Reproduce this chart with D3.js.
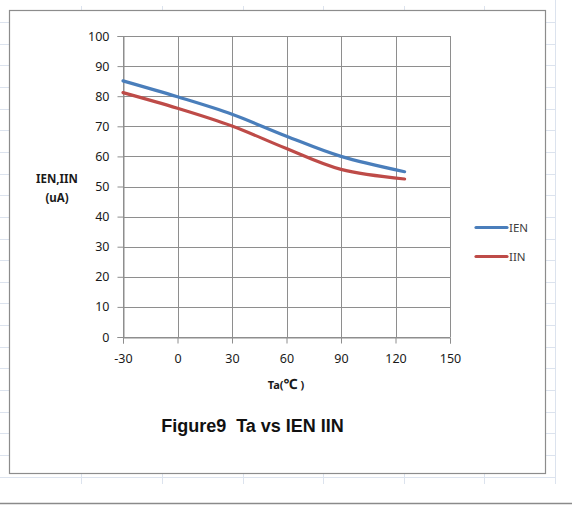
<!DOCTYPE html>
<html>
<head>
<meta charset="utf-8">
<script src="https://cdn.jsdelivr.net/npm/d3@7/dist/d3.min.js"></script>
<style>
  html, body { margin: 0; padding: 0; background: #ffffff; }
  svg { display: block; }
</style>
</head>
<body>
<svg id="chart" width="572" height="505"></svg>
<script>
// Ambient temperature (°C) and supply currents (uA)
const temps = [-30, 0, 30, 60, 90, 125];
const ienValues = [85.1, 79.8, 74.0, 66.7, 60.0, 54.9];
const iinValues = [81.2, 76.0, 70.1, 62.6, 55.7, 52.5];
const xTicks = [-30, 0, 30, 60, 90, 120, 150];
const yTicks = [0, 10, 20, 30, 40, 50, 60, 70, 80, 90, 100];
const seriesNames = ["IEN", "IIN"];
const seriesColors = ["#4a7ebb", "#be4b48"];

const svg = d3.select("#chart");
const W = 572, H = 505;

// worksheet cells behind the chart
const sheet = svg.append("g");
const rowY = d3.range(22, 480, 21.65);
const colX = [81, 162, 243, 323, 404, 484];
sheet.selectAll("line.row").data(rowY).join("line")
  .attr("x1", 0).attr("x2", 555)
  .attr("y1", d => Math.round(d) + 0.5).attr("y2", d => Math.round(d) + 0.5)
  .attr("stroke", "#dce3ee").attr("stroke-width", 1);
sheet.selectAll("line.col").data(colX).join("line")
  .attr("x1", d => d + 0.5).attr("x2", d => d + 0.5)
  .attr("y1", 6).attr("y2", 484)
  .attr("stroke", "#dce3ee").attr("stroke-width", 1);
sheet.append("line")
  .attr("x1", 555.5).attr("x2", 555.5).attr("y1", 0).attr("y2", 484)
  .attr("stroke", "#dce3ee");
sheet.append("line")
  .attr("x1", 0).attr("x2", W).attr("y1", 503.5).attr("y2", 503.5)
  .attr("stroke", "#8a8a8a").attr("stroke-width", 1.5);

// chart area
svg.append("rect")
  .attr("x", 9.5).attr("y", 10.5).attr("width", 536).attr("height", 463)
  .attr("fill", "#ffffff").attr("stroke", "#8c8c8c").attr("stroke-width", 1.2);

const x = d3.scaleLinear().domain([-30, 150]).range([123, 450]);
const y = d3.scaleLinear().domain([0, 100]).range([337, 36]);

const grid = svg.append("g");
grid.selectAll("line.h").data(yTicks).join("line")
  .attr("x1", x(-30)).attr("x2", x(150))
  .attr("y1", d => Math.round(y(d)) + 0.5).attr("y2", d => Math.round(y(d)) + 0.5)
  .attr("stroke", "#8e8e8e").attr("stroke-width", 1);
grid.selectAll("line.v").data(xTicks).join("line")
  .attr("x1", d => Math.round(x(d)) + 0.5).attr("x2", d => Math.round(x(d)) + 0.5)
  .attr("y1", y(100)).attr("y2", y(0))
  .attr("stroke", "#8e8e8e").attr("stroke-width", 1);

const tickFont = "'Noto Sans', 'Open Sans', sans-serif";
const plain = d => String(d);

// y axis
const yAxis = svg.append("g")
  .attr("transform", `translate(${Math.round(x(-30)) + 0.5},0)`)
  .call(d3.axisLeft(y).tickValues(yTicks).tickFormat(plain).tickSize(6).tickPadding(8));
yAxis.select(".domain").attr("stroke", "#8e8e8e");
yAxis.selectAll(".tick line").attr("stroke", "#8e8e8e");
yAxis.selectAll(".tick text")
  .attr("font-family", tickFont).attr("font-size", 12.5).attr("fill", "#1a1a1a");

// x axis
const xAxis = svg.append("g")
  .attr("transform", `translate(0,${Math.round(y(0)) + 0.5})`)
  .call(d3.axisBottom(x).tickValues(xTicks).tickFormat(plain).tickSize(6).tickPadding(11));
xAxis.select(".domain").attr("stroke", "#8e8e8e");
xAxis.selectAll(".tick line").attr("stroke", "#8e8e8e");
xAxis.selectAll(".tick text")
  .attr("font-family", tickFont).attr("font-size", 12.5).attr("fill", "#1a1a1a");

// series
const line = d3.line()
  .x(d => x(d[0])).y(d => y(d[1]))
  .curve(d3.curveCatmullRom.alpha(0));
[ienValues, iinValues].forEach((vals, i) => {
  svg.append("path")
    .datum(temps.map((t, k) => [t, vals[k]]))
    .attr("d", line)
    .attr("fill", "none")
    .attr("stroke", seriesColors[i])
    .attr("stroke-width", 3.2)
    .attr("stroke-linecap", "round");
});

// legend
const legend = svg.append("g");
seriesNames.forEach((name, i) => {
  const ly = 227.5 + i * 29;
  legend.append("line")
    .attr("x1", 476).attr("x2", 507).attr("y1", ly).attr("y2", ly)
    .attr("stroke", seriesColors[i]).attr("stroke-width", 3.2)
    .attr("stroke-linecap", "round");
  legend.append("text")
    .attr("x", 509).attr("y", ly).attr("dy", "0.35em")
    .attr("font-family", tickFont).attr("font-size", 11.5).attr("fill", "#404040")
    .text(name);
});

// axis titles
const yTitle = svg.append("text")
  .attr("text-anchor", "middle")
  .attr("font-family", tickFont).attr("font-size", 11.5).attr("font-weight", "bold")
  .attr("fill", "#1a1a1a");
yTitle.append("tspan").attr("x", 57).attr("y", 183).text("IEN,IIN");
yTitle.append("tspan").attr("x", 57).attr("y", 202).text("(uA)");

const xTitle = svg.append("text")
  .attr("x", 286).attr("y", 389).attr("text-anchor", "middle")
  .attr("font-family", tickFont).attr("font-size", 11).attr("font-weight", "bold")
  .attr("fill", "#1a1a1a");
xTitle.append("tspan").text("Ta(");
xTitle.append("tspan").attr("font-size", 14).text("℃");
xTitle.append("tspan").text(" )");

// chart title
svg.append("text")
  .attr("x", 252.5).attr("y", 431.5).attr("text-anchor", "middle")
  .attr("font-family", "'Liberation Sans', Arial, sans-serif")
  .attr("font-size", 18).attr("font-weight", "bold").attr("fill", "#111")
  .attr("xml:space", "preserve")
  .text("Figure9  Ta vs IEN IIN");
</script>
</body>
</html>
